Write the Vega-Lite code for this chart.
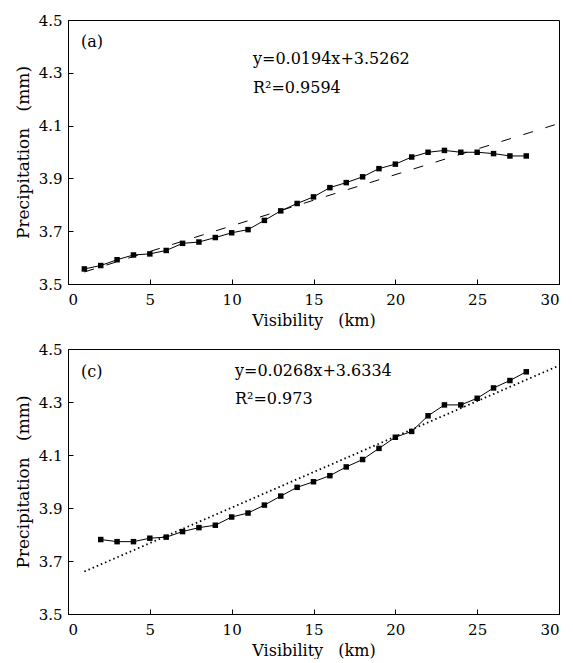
{
  "$schema": "https://vega.github.io/schema/vega-lite/v6.json",
  "padding": {"left": 13, "top": 12, "right": 5, "bottom": 0},
  "background": "white",
  "spacing": 12,
  "config": {
    "font": "DejaVu Serif",
    "view": {"stroke": "black", "strokeWidth": 1},
    "axis": {
      "grid": false,
      "domainColor": "black",
      "tickColor": "black",
      "labelColor": "black",
      "titleColor": "black",
      "labelFont": "DejaVu Serif",
      "titleFont": "DejaVu Serif",
      "labelFontSize": 15,
      "titleFontSize": 16,
      "titleFontWeight": "normal",
      "tickSize": -5,
      "tickWidth": 1
    },
    "axisX": {"labelPadding": 13, "titlePadding": 5},
    "axisY": {"labelPadding": 11, "titlePadding": 6, "titleFontSize": 17}
  },
  "datasets": {
    "a": [
      {"v": 1, "p": 3.557}, {"v": 2, "p": 3.570}, {"v": 3, "p": 3.592}, {"v": 4, "p": 3.610},
      {"v": 5, "p": 3.614}, {"v": 6, "p": 3.627}, {"v": 7, "p": 3.654}, {"v": 8, "p": 3.659},
      {"v": 9, "p": 3.676}, {"v": 10, "p": 3.694}, {"v": 11, "p": 3.706}, {"v": 12, "p": 3.741},
      {"v": 13, "p": 3.777}, {"v": 14, "p": 3.805}, {"v": 15, "p": 3.830}, {"v": 16, "p": 3.865},
      {"v": 17, "p": 3.884}, {"v": 18, "p": 3.906}, {"v": 19, "p": 3.937}, {"v": 20, "p": 3.954},
      {"v": 21, "p": 3.981}, {"v": 22, "p": 3.999}, {"v": 23, "p": 4.006}, {"v": 24, "p": 3.999},
      {"v": 25, "p": 3.999}, {"v": 26, "p": 3.994}, {"v": 27, "p": 3.985}, {"v": 28, "p": 3.985}
    ],
    "c": [
      {"v": 2, "p": 3.781}, {"v": 3, "p": 3.773}, {"v": 4, "p": 3.773}, {"v": 5, "p": 3.786},
      {"v": 6, "p": 3.790}, {"v": 7, "p": 3.811}, {"v": 8, "p": 3.826}, {"v": 9, "p": 3.835},
      {"v": 10, "p": 3.866}, {"v": 11, "p": 3.881}, {"v": 12, "p": 3.911}, {"v": 13, "p": 3.945},
      {"v": 14, "p": 3.978}, {"v": 15, "p": 3.999}, {"v": 16, "p": 4.022}, {"v": 17, "p": 4.055},
      {"v": 18, "p": 4.083}, {"v": 19, "p": 4.125}, {"v": 20, "p": 4.167}, {"v": 21, "p": 4.189},
      {"v": 22, "p": 4.248}, {"v": 23, "p": 4.289}, {"v": 24, "p": 4.289}, {"v": 25, "p": 4.314},
      {"v": 26, "p": 4.353}, {"v": 27, "p": 4.381}, {"v": 28, "p": 4.414}
    ],
    "fitA": [{"v": 1, "p": 3.5456}, {"v": 30, "p": 4.1082}],
    "fitC": [{"v": 1, "p": 3.6602}, {"v": 30, "p": 4.4374}],
    "textA": [
      {"v": 0.8, "p": 4.398, "t": "(a)"},
      {"v": 11.3, "p": 4.333, "t": "y=0.0194x+3.5262"},
      {"v": 11.3, "p": 4.223, "t": "R²=0.9594"}
    ],
    "textC": [
      {"v": 0.8, "p": 4.394, "t": "(c)"},
      {"v": 10.2, "p": 4.399, "t": "y=0.0268x+3.6334"},
      {"v": 10.2, "p": 4.292, "t": "R²=0.973"}
    ]
  },
  "vconcat": [
    {
      "width": 491,
      "height": 264,
      "encoding": {
        "x": {"field": "v", "type": "quantitative", "title": "Visibility\u00a0\u00a0\u00a0(km)",
              "scale": {"domain": [0, 30], "nice": false},
              "axis": {"values": [0, 5, 10, 15, 20, 25, 30]}},
        "y": {"field": "p", "type": "quantitative", "title": "Precipitation\u00a0\u00a0\u00a0(mm)",
              "scale": {"domain": [3.5, 4.5], "nice": false, "zero": false},
              "axis": {"values": [3.5, 3.7, 3.9, 4.1, 4.3, 4.5], "format": ".1f"}}
      },
      "layer": [
        {"data": {"name": "fitA"}, "mark": {"type": "line", "color": "black", "strokeWidth": 1, "strokeDash": [10, 13]}},
        {"data": {"name": "a"}, "mark": {"type": "line", "color": "black", "strokeWidth": 1}},
        {"data": {"name": "a"}, "mark": {"type": "point", "shape": "square", "filled": true, "color": "black", "size": 30, "opacity": 1}},
        {"data": {"name": "textA"}, "mark": {"type": "text", "align": "left", "baseline": "alphabetic", "fontSize": 16, "color": "black"},
         "encoding": {"text": {"field": "t"}}}
      ]
    },
    {
      "width": 491,
      "height": 265,
      "encoding": {
        "x": {"field": "v", "type": "quantitative", "title": "Visibility\u00a0\u00a0\u00a0(km)",
              "scale": {"domain": [0, 30], "nice": false},
              "axis": {"values": [0, 5, 10, 15, 20, 25, 30]}},
        "y": {"field": "p", "type": "quantitative", "title": "Precipitation\u00a0\u00a0\u00a0(mm)",
              "scale": {"domain": [3.5, 4.5], "nice": false, "zero": false},
              "axis": {"values": [3.5, 3.7, 3.9, 4.1, 4.3, 4.5], "format": ".1f"}}
      },
      "layer": [
        {"data": {"name": "fitC"}, "mark": {"type": "line", "color": "black", "strokeWidth": 1.8, "strokeDash": [1.5, 3]}},
        {"data": {"name": "c"}, "mark": {"type": "line", "color": "black", "strokeWidth": 1}},
        {"data": {"name": "c"}, "mark": {"type": "point", "shape": "square", "filled": true, "color": "black", "size": 30, "opacity": 1}},
        {"data": {"name": "textC"}, "mark": {"type": "text", "align": "left", "baseline": "alphabetic", "fontSize": 16, "color": "black"},
         "encoding": {"text": {"field": "t"}}}
      ]
    }
  ]
}
